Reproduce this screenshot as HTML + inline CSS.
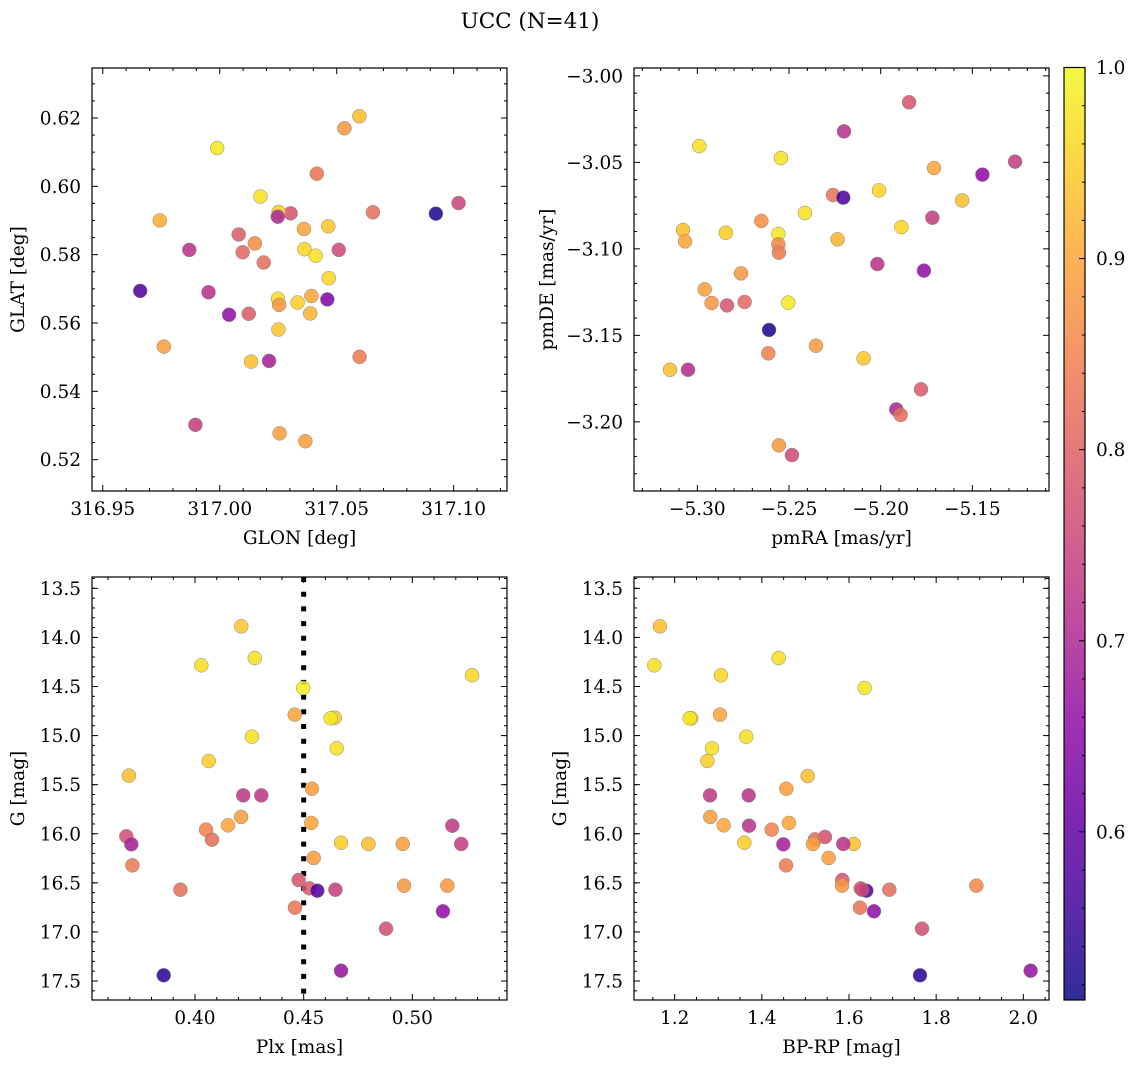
<!DOCTYPE html>
<html><head><meta charset="utf-8"><title>UCC (N=41)</title>
<style>
html,body{margin:0;padding:0;background:#fff;}
svg{display:block;font-family:"DejaVu Serif","Liberation Serif",serif;}
</style></head>
<body>
<svg id="fig" width="1136" height="1067" viewBox="0 0 1136 1067" xmlns="http://www.w3.org/2000/svg">
<text x="530" y="28" font-size="21.5" text-anchor="middle">UCC (N=41)</text>
</svg>
<script>
// ---- Panel 1: GLON vs GLAT ----
const glon = [316.9989,317.0597,317.0533,317.0415,317.0174,317.1021,317.0924,317.0655,317.0303,317.0252,317.0248,316.9744,317.0360,317.0464,317.0081,317.0150,316.9870,317.0098,317.0362,317.0509,317.0410,317.0188,317.0466,316.9660,316.9952,317.0249,317.0254,317.0392,317.0333,317.0460,317.0040,317.0124,317.0387,317.0251,316.9761,317.0598,317.0134,317.0211,316.9896,317.0256,317.0366];
const glat = [0.6112,0.6205,0.6170,0.6037,0.5970,0.5951,0.5920,0.5924,0.5921,0.5925,0.5911,0.5900,0.5875,0.5883,0.5859,0.5833,0.5814,0.5807,0.5816,0.5814,0.5797,0.5777,0.5731,0.5694,0.5690,0.5671,0.5653,0.5679,0.5660,0.5669,0.5624,0.5627,0.5628,0.5581,0.5531,0.5501,0.5487,0.5489,0.5302,0.5277,0.5254];
const prob1 = [0.98,0.93,0.88,0.83,0.97,0.75,0.53,0.82,0.78,0.95,0.70,0.91,0.90,0.94,0.79,0.87,0.72,0.81,0.96,0.76,0.97,0.82,0.96,0.58,0.72,0.97,0.88,0.90,0.95,0.64,0.66,0.79,0.92,0.94,0.89,0.84,0.93,0.69,0.74,0.89,0.89];
const p1XTicks = [316.95,317.00,317.05,317.10];
const p1YTicks = [0.52,0.54,0.56,0.58,0.60,0.62];

// ---- Panel 2: pmRA vs pmDE ----
const pmra = [-5.1845,-5.2200,-5.2989,-5.2544,-5.1267,-5.1709,-5.1445,-5.2009,-5.2260,-5.2204,-5.1556,-5.2413,-5.1718,-5.2651,-5.1887,-5.3078,-5.2845,-5.2558,-5.2235,-5.3067,-5.2558,-5.2555,-5.2018,-5.1764,-5.2762,-5.2960,-5.2922,-5.2838,-5.2742,-5.2504,-5.2609,-5.2353,-5.2613,-5.2093,-5.3149,-5.3051,-5.1780,-5.1915,-5.1891,-5.2555,-5.2484];
const pmde = [-3.0153,-3.0321,-3.0406,-3.0475,-3.0496,-3.0533,-3.0571,-3.0662,-3.0689,-3.0704,-3.0720,-3.0793,-3.0820,-3.0839,-3.0874,-3.0891,-3.0907,-3.0914,-3.0945,-3.0957,-3.0974,-3.1022,-3.1088,-3.1126,-3.1142,-3.1234,-3.1313,-3.1327,-3.1307,-3.1311,-3.1469,-3.1560,-3.1604,-3.1633,-3.1699,-3.1699,-3.1812,-3.1928,-3.1960,-3.2136,-3.2192];
const prob2 = [0.78,0.72,0.97,0.97,0.74,0.90,0.66,0.96,0.83,0.57,0.93,0.97,0.74,0.87,0.96,0.93,0.95,0.98,0.92,0.90,0.86,0.84,0.72,0.66,0.88,0.89,0.88,0.78,0.81,0.98,0.53,0.89,0.85,0.94,0.93,0.71,0.79,0.70,0.82,0.88,0.76];
const p2XTicks = [-5.30,-5.25,-5.20,-5.15];
const p2YTicks = [-3.20,-3.15,-3.10,-3.05,-3.00];

// ---- Panel 3: Plx vs G ----
const plx = [0.4213,0.4275,0.4029,0.5275,0.4498,0.4459,0.4643,0.4624,0.4262,0.4652,0.4063,0.3696,0.4538,0.4222,0.4305,0.4212,0.4152,0.4051,0.4535,0.5184,0.3684,0.3707,0.4078,0.4672,0.4798,0.4956,0.5225,0.3712,0.4546,0.4477,0.4526,0.4563,0.4646,0.3933,0.4962,0.5161,0.4460,0.5141,0.4879,0.3856,0.4672];
const gmag3 = [13.887,14.210,14.284,14.386,14.515,14.787,14.818,14.824,15.011,15.130,15.259,15.408,15.541,15.609,15.609,15.829,15.914,15.958,15.890,15.918,16.026,16.108,16.060,16.091,16.104,16.104,16.104,16.322,16.247,16.471,16.556,16.580,16.570,16.570,16.529,16.529,16.753,16.790,16.967,17.442,17.395];
const prob3 = [0.94,0.97,0.97,0.96,0.99,0.90,0.94,0.98,0.97,0.97,0.95,0.93,0.89,0.73,0.73,0.89,0.90,0.85,0.90,0.73,0.77,0.69,0.82,0.95,0.93,0.89,0.74,0.84,0.89,0.78,0.79,0.58,0.74,0.82,0.88,0.88,0.83,0.66,0.77,0.54,0.67];
const p3XTicks = [0.40,0.45,0.50];
const p3YTicks = [13.5,14.0,14.5,15.0,15.5,16.0,16.5,17.0,17.5];
const plxLine = 0.45;

// ---- Panel 4: BP-RP vs G ----
const bprp = [1.1663,1.4386,1.1533,1.3063,1.6359,1.3040,1.2382,1.2344,1.3644,1.2857,1.2750,1.5052,1.4562,1.2811,1.3698,1.2818,1.3124,1.4226,1.4623,1.3706,1.5449,1.4493,1.5220,1.3598,1.6107,1.5174,1.5870,1.4555,1.5533,1.5847,1.6268,1.6398,1.6298,1.6925,1.5839,1.8922,1.6252,1.6573,1.7675,1.7629,2.0168];
const gmag4 = [13.887,14.210,14.284,14.386,14.515,14.787,14.824,14.824,15.011,15.130,15.259,15.412,15.541,15.609,15.609,15.829,15.914,15.958,15.890,15.918,16.033,16.108,16.057,16.091,16.104,16.104,16.104,16.322,16.247,16.471,16.556,16.580,16.570,16.570,16.529,16.529,16.753,16.790,16.967,17.442,17.395];
const prob4 = [0.93,0.97,0.97,0.96,0.98,0.90,0.94,0.98,0.97,0.97,0.95,0.93,0.89,0.73,0.72,0.89,0.90,0.85,0.90,0.72,0.77,0.69,0.82,0.95,0.93,0.89,0.72,0.84,0.89,0.78,0.79,0.58,0.76,0.82,0.88,0.86,0.83,0.66,0.77,0.54,0.67];
const p4XTicks = [1.2,1.4,1.6,1.8,2.0];
const p4YTicks = p3YTicks;

// ---- Colorbar ----
const cbTicks = [0.6,0.7,0.8,0.9,1.0];
const cbMin = 0.512, cbMax = 1.0;

const FS = 18.5;
const NS = "http://www.w3.org/2000/svg";
const svg = document.getElementById('fig');
const plasma = [[13,8,135],[65,4,157],[106,0,168],[143,13,164],[177,42,144],[204,71,120],[225,100,98],[242,132,75],[252,166,54],[252,206,37],[240,249,33]];
function cmap(p){
  let t=(p-cbMin)/(cbMax-cbMin); t=Math.max(0,Math.min(1,t));
  const f=t*10, i=Math.min(9,Math.floor(f)), r=f-i;
  const a=plasma[i], b=plasma[i+1];
  return 'rgb('+[0,1,2].map(k=>Math.round(a[k]+(b[k]-a[k])*r)).join(',')+')';
}
function el(tag, attrs, parent){
  const e=document.createElementNS(NS,tag);
  for(const k in attrs) e.setAttribute(k,attrs[k]);
  (parent||svg).appendChild(e); return e;
}
function fmt(v,d){ const s=Math.abs(v).toFixed(d); return (v<0?'\u2212':'')+s; }

function panel(o){
  const g=el('g',{});
  
  
  const W=o.x1-o.x0, H=o.y1-o.y0;
  const sx=v=>o.x0+(v-o.xd[0])/(o.xd[1]-o.xd[0])*W;
  const sy=v=>o.y0+(o.yd[1]-v)/(o.yd[1]-o.yd[0])*H;
  const clipId='clip-'+o.name;
  const cp=el('clipPath',{id:clipId},g);
  el('rect',{x:o.x0,y:o.y0,width:W,height:H},cp);
  const pts=el('g',{'clip-path':'url(#'+clipId+')'},g);
  if(o.vline!==undefined){
    const ln=el('line',{x1:sx(o.vline),x2:sx(o.vline),y1:o.y0,y2:o.y1,stroke:'#000','stroke-width':5,'stroke-dasharray':'5 9.7'},pts);
    
    
  }
  for(let i=0;i<o.xs.length;i++){
    const c=el('circle',{cx:sx(o.xs[i]),cy:sy(o.ys[i]),r:7,fill:cmap(o.ps[i]),'fill-opacity':0.87,stroke:'#888','stroke-width':0.5},pts);
    
    
  }
  const tk=el('g',{stroke:'#000','stroke-width':1},g);
  const xr=[Math.min(...o.xd),Math.max(...o.xd)], yr=[Math.min(...o.yd),Math.max(...o.yd)];
  for(let v=Math.ceil(xr[0]/o.xminor-1e-6)*o.xminor; v<=xr[1]+1e-9; v+=o.xminor){
    const x=sx(v); const major=o.xt.some(t=>Math.abs(t-v)<o.xminor/10);
    const L=major?6:3;
    el('line',{x1:x,x2:x,y1:o.y1,y2:o.y1-L},tk); el('line',{x1:x,x2:x,y1:o.y0,y2:o.y0+L},tk);
  }
  for(let v=Math.ceil(yr[0]/o.yminor-1e-6)*o.yminor; v<=yr[1]+1e-9; v+=o.yminor){
    const y=sy(v); const major=o.yt.some(t=>Math.abs(t-v)<o.yminor/10);
    const L=major?6:3;
    el('line',{x1:o.x0,x2:o.x0+L,y1:y,y2:y},tk); el('line',{x1:o.x1,x2:o.x1-L,y1:y,y2:y},tk);
  }
  el('rect',{x:o.x0,y:o.y0,width:W,height:H,fill:'none',stroke:'#000','stroke-width':1.2},g);
  o.xt.forEach(v=>{
    const t=el('text',{x:sx(v),y:o.y1+24,'font-size':FS,'text-anchor':'middle'},g); t.textContent=fmt(v,o.xdp);
    
    
  });
  o.yt.forEach(v=>{
    const t=el('text',{x:o.x0-11,y:sy(v)+6.5,'font-size':FS,'text-anchor':'end'},g); t.textContent=fmt(v,o.ydp);
    
    
  });
  const xl=el('text',{x:(o.x0+o.x1)/2,y:o.y1+53,'font-size':FS,'text-anchor':'middle'},g); xl.textContent=o.xlabel;
  
  
  const yl=el('text',{x:0,y:0,'font-size':FS,'text-anchor':'middle',transform:'translate('+o.ylx+','+((o.y0+o.y1)/2)+') rotate(-90)'},g); yl.textContent=o.ylabel;
  
  
}

panel({name:'glon-glat-panel',x0:92,x1:507,y0:68,y1:491,xd:[316.9454,317.1228],yd:[0.51083,0.63463],xs:glon,ys:glat,ps:prob1,xt:p1XTicks,yt:p1YTicks,xminor:0.01,yminor:0.005,xdp:2,ydp:2,xlabel:'GLON [deg]',ylabel:'GLAT [deg]',ylx:24});
panel({name:'pm-panel',x0:634,x1:1049,y0:68,y1:491,xd:[-5.33455,-5.10818],yd:[-3.23998,-2.99547],xs:pmra,ys:pmde,ps:prob2,xt:p2XTicks,yt:p2YTicks,xminor:0.01,yminor:0.01,xdp:2,ydp:2,xlabel:'pmRA [mas/yr]',ylabel:'pmDE [mas/yr]',ylx:553});
panel({name:'plx-g-panel',x0:92,x1:507,y0:577,y1:1000,xd:[0.35261,0.54356],yd:[-17.6935,-13.3846],xs:plx,ys:gmag3.map(v=>-v),ps:prob3,xt:p3XTicks,yt:[],xminor:0.01,yminor:0.1,xdp:2,ydp:1,xlabel:'Plx [mas]',ylabel:'G [mag]',ylx:24,vline:plxLine});
panel({name:'cmd-panel',x0:634,x1:1049,y0:577,y1:1000,xd:[1.1067,2.0589],yd:[-17.6935,-13.3846],xs:bprp,ys:gmag4.map(v=>-v),ps:prob4,xt:p4XTicks,yt:[],xminor:0.05,yminor:0.1,xdp:1,ydp:1,xlabel:'BP-RP [mag]',ylabel:'G [mag]',ylx:566});

// inverted y-axis labels and major ticks for bottom panels (G increases downward)
[[92,507,p3YTicks],[634,1049,p4YTicks]].forEach(([x0,x1,ticks])=>{
  const sy=v=>577+(v-13.3846)/(17.6935-13.3846)*423;
  ticks.forEach(v=>{
    el('line',{x1:x0,x2:x0+6,y1:sy(v),y2:sy(v),stroke:'#000'});
    el('line',{x1:x1,x2:x1-6,y1:sy(v),y2:sy(v),stroke:'#000'});
    const t=el('text',{x:x0-11,y:sy(v)+6.5,'font-size':FS,'text-anchor':'end'}); t.textContent=v.toFixed(1);
    
    
  });
});

// colorbar
(function(){
  const x0=1064,x1=1085,y0=67.5,y1=1000;
  const cb=el('g',{});
  
  
  const sy=v=>y1-(v-cbMin)/(cbMax-cbMin)*(y1-y0);
  const grad=el('linearGradient',{id:'cbgrad',x1:0,y1:1,x2:0,y2:0},cb);
  for(let i=0;i<=20;i++){ const p=cbMin+(cbMax-cbMin)*i/20; el('stop',{offset:(i/20),'stop-color':cmap(p),'stop-opacity':0.85},grad); }
  el('rect',{x:x0,y:y0,width:x1-x0,height:y1-y0,fill:'url(#cbgrad)',stroke:'#000','stroke-width':1.2},cb);
  for(let v=0.52; v<=1.0001; v+=0.02){
    const major=cbTicks.some(t=>Math.abs(t-v)<0.001);
    el('line',{x1:x1,x2:x1-(major?6:3),y1:sy(v),y2:sy(v),stroke:'#000'},cb);
  }
  cbTicks.forEach(v=>{
    const t=el('text',{x:x1+11,y:sy(v)+6.5,'font-size':FS},cb); t.textContent=v.toFixed(1);
    
    
  });
})();
</script>
</body></html>
